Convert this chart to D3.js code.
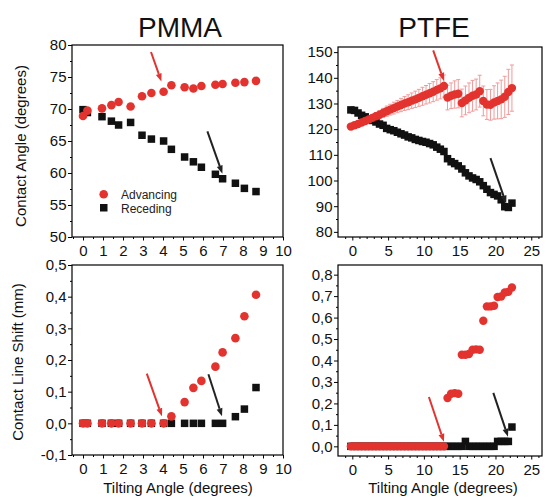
<html>
<head>
<style>
  body { margin: 0; background: #fff; }
  text { font-family: "Liberation Sans", Arial, sans-serif; }
</style>
</head>
<body>
<script src="https://d3js.org/d3.v7.min.js"></script>
<script>

// ---- PMMA data ----
var pmmaAngle = [0, 0.22, 0.95, 1.42, 1.78, 2.38, 2.95, 3.42, 4.03, 4.42, 5.08, 5.52, 5.92, 6.62, 6.98, 7.62, 8.07, 8.65];
var pmmaAdvancing = [68.9, 69.75, 70.1, 70.6, 71.1, 70.4, 72.0, 72.5, 72.7, 73.7, 73.4, 73.2, 73.6, 73.8, 73.9, 74.1, 74.2, 74.4];
var pmmaReceding = [69.9, 69.45, 68.8, 68.1, 67.5, 67.9, 65.9, 65.3, 65.0, 63.7, 62.5, 61.75, 60.9, 59.8, 59.1, 58.4, 57.6, 57.1];
var pmmaAdvShift = [0, 0, 0, 0, 0, 0, 0, 0, 0, 0.022, 0.067, 0.112, 0.134, 0.179, 0.224, 0.269, 0.338, 0.406];
var pmmaRecShift = [0, 0, 0, 0, 0, 0, 0, 0, 0, 0, 0, 0, 0, 0, 0, 0.021, 0.045, 0.113];

// ---- PTFE data ----
var ptfeAngle = [-0.2, 0.3, 0.8, 1.3, 1.8, 2.3, 2.8, 3.3, 3.8, 4.3, 4.8, 5.3, 5.8, 6.3, 6.8, 7.3, 7.8, 8.3, 8.8, 9.3,
  9.8, 10.3, 10.8, 11.3, 11.8, 12.3, 12.8, 13.3, 13.8, 14.3, 14.8, 15.3, 15.8, 16.3, 16.8, 17.3, 17.8, 18.3, 18.8, 19.3,
  19.8, 20.3, 20.8, 21.3, 21.8, 22.3];
var ptfeAdvancing = [121.0, 121.5, 122.0, 122.6, 123.2, 123.8, 124.4, 125.0, 125.6, 126.3, 127.0, 127.6, 128.2, 128.8, 129.4, 130.0, 130.5, 131.1, 131.6, 132.2,
  132.8, 133.4, 134.0, 134.6, 135.3, 135.9, 136.8, 132.3, 133.0, 133.5, 133.8, 130.2, 131.2, 132.2, 133.0, 133.5, 134.8, 131.0, 129.6, 129.5,
  130.4, 131.0, 131.6, 132.6, 134.5, 136.0];
var ptfeAdvError = [0.5, 0.6, 0.8, 0.9, 1.0, 1.2, 1.3, 1.5, 1.6, 1.8, 2.0, 2.1, 2.3, 2.4, 2.6, 2.7, 2.9, 3.0, 3.2, 3.3,
  3.5, 3.6, 3.8, 3.9, 4.0, 4.1, 4.3, 4.8, 5.0, 5.3, 5.5, 5.4, 5.6, 5.8, 6.0, 6.0, 6.2, 5.8, 5.8, 6.0,
  6.5, 7.0, 7.5, 8.0, 8.8, 9.0];
var ptfeReceding = [127.5, 127.3, 126.3, 125.4, 124.8, 124.0, 123.4, 122.8, 122.0, 121.5, 120.3, 119.8, 119.4, 118.8, 118.2, 117.7, 117.0, 116.6, 116.0, 115.6,
  115.2, 114.9, 114.4, 113.9, 113.0, 112.2, 111.3, 108.5, 107.3, 106.6, 105.7, 104.5, 103.0, 101.8, 101.0, 100.4, 99.5, 98.0, 96.6, 95.3,
  94.6, 94.0, 92.5, 89.8, 89.5, 91.2];
var ptfeAdvShift = [0, 0, 0, 0, 0, 0, 0, 0, 0, 0, 0, 0, 0, 0, 0, 0, 0, 0, 0, 0,
  0, 0, 0, 0, 0, 0, 0, 0.225, 0.245, 0.248, 0.245, 0.427, 0.427, 0.43, 0.45, 0.452, 0.45, 0.585, 0.652, 0.652,
  0.655, 0.696, 0.698, 0.717, 0.72, 0.74];
var ptfeRecShift = [0, 0, 0, 0, 0, 0, 0, 0, 0, 0, 0, 0, 0, 0, 0, 0, 0, 0, 0, 0,
  0, 0, 0, 0, 0, 0, 0, 0, 0, 0, 0, 0, 0.023, 0, 0, 0, 0, 0, 0, 0,
  0, 0.023, 0.023, 0.023, 0.023, 0.09];

// ---- tick labels ----
var pmmaXTicks = [0, 1, 2, 3, 4, 5, 6, 7, 8, 9, 10];
var ptfeXTicks = [0, 5, 10, 15, 20, 25];
var pmmaAngleTicks = [50, 55, 60, 65, 70, 75, 80];
var ptfeAngleTicks = [80, 90, 100, 110, 120, 130, 140, 150];
var pmmaShiftTicks = [-0.1, 0, 0.1, 0.2, 0.3, 0.4, 0.5];
var ptfeShiftTicks = [0, 0.1, 0.2, 0.3, 0.4, 0.5, 0.6, 0.7, 0.8];

// arrows [x1, y1, x2, y2] in data units
var pmmaAngleArrows = [[3.4, 78.9, 3.92, 74.3, "red"], [6.22, 66.5, 6.97, 59.9, "black"]];
var pmmaShiftArrows = [[3.19, 0.157, 3.95, 0.022, "red"], [6.27, 0.155, 6.95, 0.022, "black"]];
var ptfeAngleArrows = [[11.3, 150.7, 12.8, 138.8, "red"], [19.3, 108.7, 21.5, 91.0, "black"]];
var ptfeShiftArrows = [[10.7, 0.23, 12.8, 0.021, "red"], [19.7, 0.249, 21.75, 0.045, "black"]];

var RED = "#e3332f", BLACK = "#111";

var svg = d3.select("body").append("svg")
    .attr("width", 546)
    .attr("height", 497);

function comma(d) { return d.toFixed(1).replace(".", ","); }

function halfSteps(ticks) {
    var out = [];
    for (var i = 0; i < ticks.length - 1; i++) out.push((ticks[i] + ticks[i + 1]) / 2);
    return out;
}

function panel(o) {
    var x = d3.scaleLinear().domain(o.xDomain).range([o.left, o.right]);
    var y = d3.scaleLinear().domain(o.yDomain).range([o.bottom, o.top]);
    var g = svg.append("g");

    g.append("rect")
        .attr("x", o.left).attr("y", o.top)
        .attr("width", o.right - o.left).attr("height", o.bottom - o.top)
        .attr("fill", "none").attr("stroke", "#000").attr("stroke-width", 1.2);

    function style(sel) {
        sel.select(".domain").remove();
        sel.selectAll("line").attr("stroke", "#000");
        sel.selectAll("text").attr("fill", "#111")
            .style("font-family", "'Liberation Sans', Arial, sans-serif").style("font-size", "15px");
    }

    g.append("g").attr("transform", "translate(0," + o.bottom + ")")
        .call(d3.axisBottom(x).tickValues(o.xMinor).tickSize(2).tickFormat(""))
        .call(style);
    g.append("g").attr("transform", "translate(0," + o.bottom + ")")
        .call(d3.axisBottom(x).tickValues(o.xTicks).tickSize(3.5).tickPadding(4.5).tickFormat(d3.format("d")))
        .call(style);
    g.append("g").attr("transform", "translate(" + o.left + ",0)")
        .call(d3.axisLeft(y).tickValues(o.yMinor).tickSize(2).tickFormat(""))
        .call(style);
    g.append("g").attr("transform", "translate(" + o.left + ",0)")
        .call(d3.axisLeft(y).tickValues(o.yTicks).tickSize(4).tickPadding(1.5).tickFormat(o.yFormat))
        .call(style);

    var pts = o.xs.map(function(v, i) { return i; });

    if (o.err) {
        var eb = g.append("g").attr("stroke", "#f09a9a").attr("stroke-width", 1);
        pts.forEach(function(i) {
            var cx = x(o.xs[i]), lo = y(o.adv[i] - o.err[i]), hi = y(o.adv[i] + o.err[i]);
            eb.append("line").attr("x1", cx).attr("x2", cx).attr("y1", lo).attr("y2", hi);
            eb.append("line").attr("x1", cx - 2).attr("x2", cx + 2).attr("y1", lo).attr("y2", lo);
            eb.append("line").attr("x1", cx - 2).attr("x2", cx + 2).attr("y1", hi).attr("y2", hi);
        });
    }

    var s = o.sq;
    g.append("g").selectAll("rect").data(pts).enter().append("rect")
        .attr("x", function(i) { return x(o.xs[i]) - s / 2; })
        .attr("y", function(i) { return y(o.rec[i]) - s / 2; })
        .attr("width", s).attr("height", s)
        .attr("fill", BLACK);

    g.append("g").selectAll("circle").data(pts).enter().append("circle")
        .attr("cx", function(i) { return x(o.xs[i]); })
        .attr("cy", function(i) { return y(o.adv[i]); })
        .attr("r", o.r)
        .attr("fill", RED);

    o.arrows.forEach(function(a) {
        var x1 = x(a[0]), y1 = y(a[1]), x2 = x(a[2]), y2 = y(a[3]);
        var col = a[4] === "red" ? RED : "#222";
        var ang = Math.atan2(y2 - y1, x2 - x1), L = 8, W = 3;
        var bx = x2 - L * Math.cos(ang), by = y2 - L * Math.sin(ang);
        g.append("line").attr("x1", x1).attr("y1", y1).attr("x2", bx).attr("y2", by)
            .attr("stroke", col).attr("stroke-width", 2);
        g.append("path")
            .attr("d", "M" + x2 + "," + y2 +
                "L" + (bx + W * Math.sin(ang)) + "," + (by - W * Math.cos(ang)) +
                "L" + (bx - W * Math.sin(ang)) + "," + (by + W * Math.cos(ang)) + "Z")
            .attr("fill", col);
    });

    return { x: x, y: y, g: g };
}

var tl = panel({
    left: 72, right: 283, top: 45, bottom: 237,
    xDomain: [-0.55, 10], yDomain: [50, 80],
    xTicks: pmmaXTicks, xMinor: halfSteps([-1].concat(pmmaXTicks)).filter(function(d) { return d > -0.55; }),
    yTicks: pmmaAngleTicks, yMinor: halfSteps(pmmaAngleTicks), yFormat: d3.format("d"),
    xs: pmmaAngle, adv: pmmaAdvancing, rec: pmmaReceding, r: 4.3, sq: 7.5,
    arrows: pmmaAngleArrows
});

// legend
var leg = tl.g.append("g");
leg.append("circle").attr("cx", 103.7).attr("cy", 194.3).attr("r", 4.3).attr("fill", RED);
leg.append("rect").attr("x", 100).attr("y", 204).attr("width", 7.5).attr("height", 7.5).attr("fill", BLACK);
leg.append("text").attr("x", 121).attr("y", 199).style("font-size", "12px").attr("fill", "#222").text("Advancing");
leg.append("text").attr("x", 121).attr("y", 213).style("font-size", "12px").attr("fill", "#222").text("Receding");

panel({
    left: 72, right: 283, top: 265, bottom: 455,
    xDomain: [-0.55, 10], yDomain: [-0.1, 0.5],
    xTicks: pmmaXTicks, xMinor: halfSteps([-1].concat(pmmaXTicks)).filter(function(d) { return d > -0.55; }),
    yTicks: pmmaShiftTicks, yMinor: halfSteps(pmmaShiftTicks), yFormat: comma,
    xs: pmmaAngle, adv: pmmaAdvShift, rec: pmmaRecShift, r: 4.3, sq: 7.5,
    arrows: pmmaShiftArrows
});

var ptfeMinorX = [-1, 1, 2, 3, 4, 6, 7, 8, 9, 11, 12, 13, 14, 16, 17, 18, 19, 21, 22, 23, 24, 26];

panel({
    left: 338, right: 542, top: 47, bottom: 237,
    xDomain: [-2, 26.5], yDomain: [78, 152],
    xTicks: ptfeXTicks, xMinor: ptfeMinorX,
    yTicks: ptfeAngleTicks, yMinor: halfSteps(ptfeAngleTicks), yFormat: d3.format("d"),
    xs: ptfeAngle, adv: ptfeAdvancing, rec: ptfeReceding, err: ptfeAdvError, r: 4.2, sq: 7.5,
    arrows: ptfeAngleArrows
});

panel({
    left: 338, right: 542, top: 265, bottom: 456,
    xDomain: [-2, 26.5], yDomain: [-0.045, 0.845],
    xTicks: ptfeXTicks, xMinor: ptfeMinorX,
    yTicks: ptfeShiftTicks, yMinor: halfSteps(ptfeShiftTicks), yFormat: comma,
    xs: ptfeAngle, adv: ptfeAdvShift, rec: ptfeRecShift, r: 4.2, sq: 7.5,
    arrows: ptfeShiftArrows
});

// titles
svg.append("text").attr("x", 180).attr("y", 37).attr("text-anchor", "middle")
    .style("font-size", "28px").attr("fill", "#111").text("PMMA");
svg.append("text").attr("x", 434).attr("y", 37).attr("text-anchor", "middle")
    .style("font-size", "28px").attr("fill", "#111").text("PTFE");

// axis titles
svg.append("text").attr("transform", "translate(26,146) rotate(-90)").attr("text-anchor", "middle")
    .style("font-size", "15px").attr("fill", "#111").text("Contact Angle (degrees)");
svg.append("text").attr("transform", "translate(23,362) rotate(-90)").attr("text-anchor", "middle")
    .style("font-size", "15px").attr("fill", "#111").text("Contact Line Shift (mm)");
svg.append("text").attr("x", 178).attr("y", 493).attr("text-anchor", "middle")
    .style("font-size", "15px").attr("fill", "#111").text("Tilting Angle (degrees)");
svg.append("text").attr("x", 443).attr("y", 493).attr("text-anchor", "middle")
    .style("font-size", "15px").attr("fill", "#111").text("Tilting Angle (degrees)");

</script>
</body>
</html>
